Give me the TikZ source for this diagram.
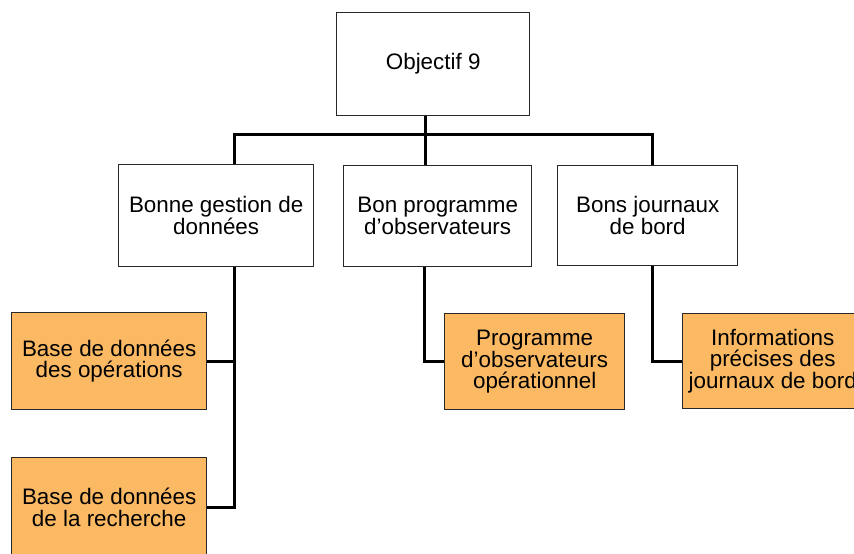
\documentclass[tikz,border=0pt]{standalone}
\usepackage{fontspec}
\setmainfont{Liberation Sans}
\definecolor{goalfill}{RGB}{251,185,100}
\definecolor{edgegray}{RGB}{40,40,40}
\tikzset{
  lvlbox/.style={draw=edgegray, line width=1.4pt, fill=white, anchor=north west,
    align=center, inner sep=2pt,
    font=\fontsize{22.4}{21.7}\selectfont},
  goalbox/.style={lvlbox, fill=goalfill},
  conn/.style={draw=black, line width=3pt, line cap=butt, line join=miter}
}
\begin{document}
\begin{tikzpicture}[x=1pt, y=-1pt]
  \path[clip, use as bounding box] (0,0) rectangle (854,554);
  \fill[white] (0,0) rectangle (854,554);

  % upper levels
  \node[lvlbox, minimum width=193pt, minimum height=103pt] (top) at (336,12) {Objectif 9};
  \node[lvlbox, minimum width=195pt, minimum height=102pt] (b1) at (118,164) {Bonne gestion de\\données};
  \node[lvlbox, minimum width=188pt, minimum height=101pt] (b2) at (343,165) {Bon programme\\d’observateurs};
  \node[lvlbox, minimum width=180pt, minimum height=100pt] (b3) at (557,165) {Bons journaux\\de bord};

  % outcome boxes
  \node[goalbox, minimum width=195pt, minimum height=97pt] (o1) at (11,312) {Base de données\\des opérations};
  \node[goalbox, minimum width=195pt, minimum height=99pt] (o2) at (11,457) {Base de données\\de la recherche};
  \node[goalbox, minimum width=180pt, minimum height=96pt] (o3) at (444,313) {Programme\\d’observateurs\\opérationnel};
  \node[goalbox, minimum width=180pt, minimum height=95pt] (o4) at (682,313) {Informations\\précises des\\journaux de bord};

  % bus line and drop positions
  \coordinate (bus) at (0,134);
  \coordinate (xa) at (234,0);
  \coordinate (xb) at (425,0);
  \coordinate (xc) at (652,0);
  \coordinate (xd) at (424,0);

  % tree connectors
  \draw[conn] (top.south -| xb) -- (b2.north -| xb);
  \draw[conn] (b1.north -| xa) -- (bus -| xa) -- (bus -| xc) -- (b3.north -| xc);
  \draw[conn] (b1.south -| xa) |- (o2.east);
  \draw[conn] (o1.east) -- (o1.east -| xa);
  \draw[conn] (b2.south -| xd) |- (o3.west);
  \draw[conn] (b3.south -| xc) |- (o4.west);
\end{tikzpicture}
\end{document}
